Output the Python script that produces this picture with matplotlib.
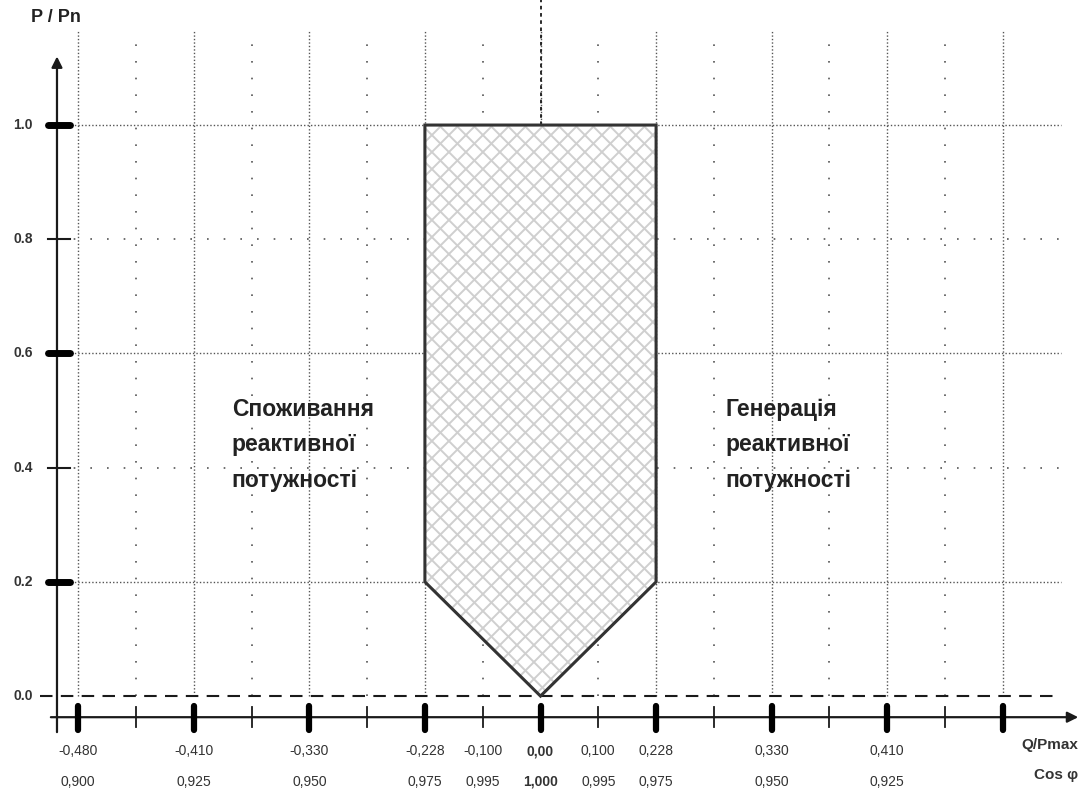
import matplotlib
matplotlib.use("Agg")
import matplotlib.pyplot as plt
import numpy as np
from matplotlib.patches import Polygon

plt.rcParams["font.family"] = ["Liberation Sans", "DejaVu Sans"]

# x positions are evenly spaced slots, not proportional to Q/Pmax
q_slots = [-4, -3, -2, -1, -0.5, 0, 0.5, 1, 2, 3]
q_labels = ["-0,480", "-0,410", "-0,330", "-0,228", "-0,100",
            "0,00", "0,100", "0,228", "0,330", "0,410"]
cos_labels = ["0,900", "0,925", "0,950", "0,975", "0,995",
              "1,000", "0,995", "0,975", "0,950", "0,925"]
major_slots = [-4, -3, -2, -1, 0, 1, 2, 3, 4]
minor_slots = [-3.5, -2.5, -1.5, -0.5, 0.5, 1.5, 2.5, 3.5]

p_ticks = [0.0, 0.2, 0.4, 0.6, 0.8, 1.0]
p_labels = ["0.0", "0.2", "0.4", "0.6", "0.8", "1.0"]
p_major = [0.2, 0.6, 1.0]
p_minor = [0.4, 0.8]

# operating region (slot, P/Pn)
region_q = [-1, 1, 1, 0, -1]
region_p = [1.0, 1.0, 0.2, 0.0, 0.2]

fig = plt.figure(figsize=(10.81, 7.92), dpi=100)
ax = fig.add_axes([0, 0, 1, 1])
ax.set_xlim(-4.676, 4.676)
ax.set_ylim(-0.168, 1.219)
ax.axis("off")

dark = "#1a1a1a"
y_axis_x = -4.183
x_axis_y = -0.037
grid_top = 1.165
grid_right = 4.5

# grid
for s in major_slots:
    ax.plot([s, s], [0, grid_top], color="#555555", lw=1.0,
            ls=(0, (1, 1.5)), zorder=1)
for s in minor_slots:
    ax.plot([s, s], [0, grid_top], color="#555555", lw=1.2,
            ls=(0, (1, 9)), zorder=1)
for p in p_major:
    ax.plot([y_axis_x, grid_right], [p, p], color="#555555", lw=1.0,
            ls=(0, (1, 1.5)), zorder=1)
for p in p_minor:
    ax.plot([y_axis_x, grid_right], [p, p], color="#555555", lw=1.2,
            ls=(0, (1, 9)), zorder=1)

# zero line and centre dashed line
ax.plot([-4.33, 4.49], [0, 0], color=dark, lw=1.5, ls=(0, (6, 4)), zorder=2)
ax.plot([0, 0], [1.0, 1.219], color=dark, lw=1.3, ls=(0, (2, 2)), zorder=2)

# region: white fill, light cross hatch, dark outline
fill = Polygon(list(zip(region_q, region_p)), closed=True,
               facecolor="white", edgecolor="none", zorder=3)
ax.add_patch(fill)
k = (ax.bbox.width / 9.352) / (ax.bbox.height / 1.387)  # 45 deg in pixels
pitch = 17 / (ax.bbox.width / 9.352)
for c in np.arange(-1 - 1 / k, 1 + 1 / k, pitch):
    for sgn in (1, -1):
        xs = np.array([c, c + sgn / k])
        ln, = ax.plot(xs, [0, 1.0], color="#cfcfcf", lw=1.4, zorder=3.5)
        ln.set_clip_path(fill)
outline = Polygon(list(zip(region_q, region_p)), closed=True,
                  facecolor="none", edgecolor="#333333", lw=2.2, zorder=4)
ax.add_patch(outline)

# axes with arrows
ax.annotate("", xy=(4.676, x_axis_y), xytext=(-4.26, x_axis_y),
            arrowprops=dict(arrowstyle="-|>", color=dark, lw=1.6,
                            mutation_scale=16), zorder=4)
ax.annotate("", xy=(y_axis_x, 1.125), xytext=(y_axis_x, -0.068),
            arrowprops=dict(arrowstyle="-|>", color=dark, lw=1.6,
                            mutation_scale=16), zorder=4)

# x ticks
for s in major_slots:
    ax.plot([s, s], [x_axis_y - 0.022, x_axis_y + 0.02], color="black",
            lw=4.5, solid_capstyle="round", zorder=5)
for s in minor_slots:
    ax.plot([s, s], [x_axis_y - 0.018, x_axis_y + 0.018], color=dark,
            lw=1.3, zorder=5)

# y ticks
for p in p_major:
    ax.plot([y_axis_x - 0.08, y_axis_x + 0.11], [p, p], color="black",
            lw=5, solid_capstyle="round", zorder=5)
for p in p_minor:
    ax.plot([y_axis_x - 0.08, y_axis_x + 0.11], [p, p], color=dark,
            lw=1.5, zorder=5)

for p, lab in zip(p_ticks, p_labels):
    ax.text(y_axis_x - 0.21, p, lab, ha="right", va="center", fontsize=10,
            color="#333333", fontweight="bold")

for s, ql, cl in zip(q_slots, q_labels, cos_labels):
    w = "bold" if s == 0 else "normal"
    ax.text(s, -0.097, ql, ha="center", va="center", fontsize=10,
            color="#333333", fontweight=w)
    ax.text(s, -0.150, cl, ha="center", va="center", fontsize=10,
            color="#333333", fontweight=w)

ax.text(4.65, -0.085, "Q/Pmax", ha="right", va="center", fontsize=11,
        color="#333333", fontweight="bold")
ax.text(4.65, -0.138, "Cos φ", ha="right", va="center", fontsize=11,
        color="#333333", fontweight="bold")
ax.text(-4.19, 1.188, "P / Pn", ha="center", va="center", fontsize=13,
        color="#222222", fontweight="bold")

ax.text(-2.67, 0.44, "Споживання\nреактивної\nпотужності", ha="left",
        va="center", fontsize=16.5, fontweight="bold", color="#222222",
        linespacing=1.7)
ax.text(1.6, 0.44, "Генерація\nреактивної\nпотужності", ha="left",
        va="center", fontsize=16.5, fontweight="bold", color="#222222",
        linespacing=1.7)

fig.savefig("out.png", dpi=100)
